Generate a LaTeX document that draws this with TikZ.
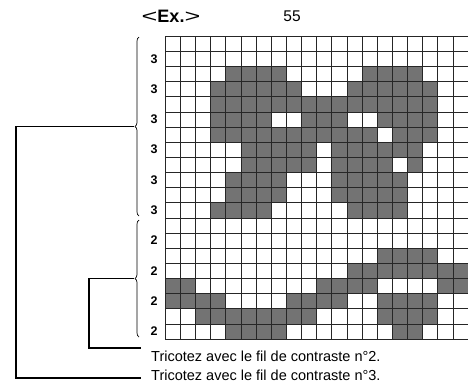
\documentclass[tikz,border=0pt]{standalone}
\usepackage{fontspec}
\setmainfont{Liberation Sans}
\usepackage{graphicx}
\usetikzlibrary{positioning,decorations.pathreplacing}

\begin{document}
\begin{tikzpicture}[x=1pt, y=-1pt,
  gridline/.style={draw=black!85, line width=0.5pt},
  knit/.style={fill=black!55},
  rowlbl/.style={font=\fontsize{12.5}{12.5}\selectfont\bfseries, inner sep=0pt},
  grp/.style={decorate, decoration={brace, amplitude=4pt}, line width=0.7pt},
  lead/.style={draw=black, line width=1.1pt},
  note/.style={font=\fontsize{14.5}{15}\selectfont, inner sep=0pt, anchor=west},
  ttl/.style={font=\fontsize{18}{18}\selectfont, inner sep=0pt}
]
\def\cs{15.15}
\useasboundingbox (0,0) rectangle (468,386);

% contrast stitches
\foreach \r/\a/\b in {2/4/7, 2/13/16, 3/3/8, 3/12/17, 4/3/17,
    5/3/6, 5/9/11, 5/14/17, 6/3/13, 6/15/17, 7/5/9, 7/11/16,
    8/5/9, 8/11/14, 8/16/16, 9/4/7, 9/11/15, 10/4/7, 10/11/15,
    11/3/6, 11/12/15, 14/14/17, 15/12/19, 16/0/1, 16/10/13, 16/18/19,
    17/0/3, 17/8/11, 17/14/17, 18/2/9, 18/14/17, 19/4/7, 19/15/16}
  \fill[knit] ({165+\cs*\a},{36+\cs*\r}) rectangle ({165+\cs*(\b+1)},{36+\cs*(\r+1)});

% grid
\foreach \i in {0,...,20} {
  \draw[gridline] ({165+\cs*\i},36) -- ({165+\cs*\i},339);
  \draw[gridline] (165,{36+\cs*\i}) -- (468,{36+\cs*\i});
}

% row counts
\foreach \k/\n in {0/3,1/3,2/3,3/3,4/3,5/3,6/2,7/2,8/2,9/2}
  \node[rowlbl] (cnt\k) at (154,{36+\cs*(2*\k+1.5)}) {\n};

\node[ttl] (ex) at (171,16) {\scalebox{1.5}[1]{<}\textbf{Ex.}\scalebox{1.5}[1]{>}};
\node[font=\fontsize{15.5}{15.5}\selectfont, inner sep=0pt] (cols) at (292,16) {55};

% groups
\draw[grp] (139,216) -- (139,37);
\draw[grp] (139,337) -- (139,220);
\coordinate (grp3) at (134,126.5);
\coordinate (grp2) at (134,278.5);

\node[note] (note2) at (151,356) {Tricotez avec le fil de contraste n°2.};
\node[note] (note3) at (151,375) {Tricotez avec le fil de contraste n°3.};

\coordinate (bend2) at (89,348);
\coordinate (end2) at (141,348);
\coordinate (bend3) at (16,378);
\coordinate (end3) at (141,378);
\draw[lead] (grp2) -| (bend2) -- (end2);
\draw[lead] (grp3) -| (bend3) -- (end3);

\end{tikzpicture}
\end{document}
